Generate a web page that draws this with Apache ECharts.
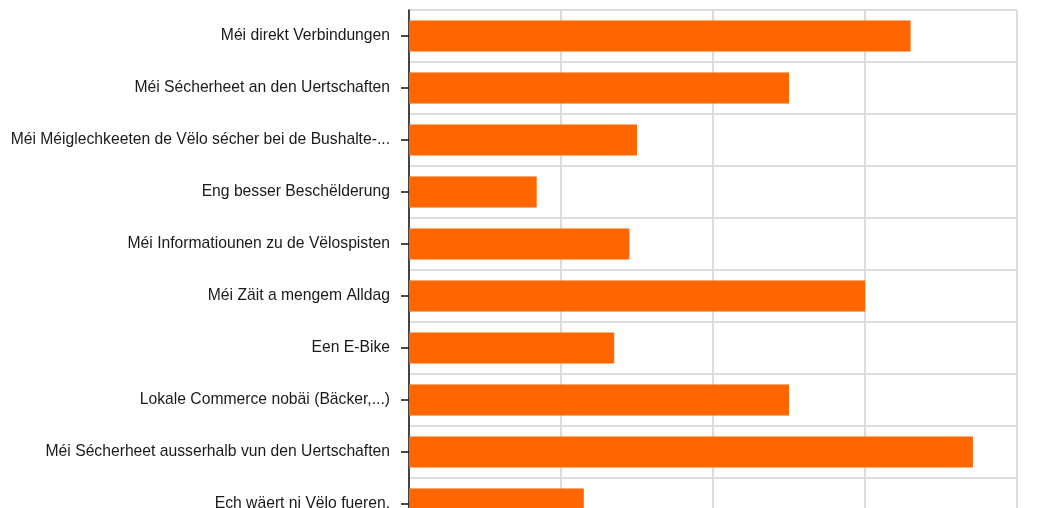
<!DOCTYPE html>
<html>
<head>
<meta charset="utf-8">
<script src="https://cdn.jsdelivr.net/npm/echarts@6/dist/echarts.min.js"></script>
<style>
html,body{margin:0;padding:0;background:#fff;}
#chart{width:1037px;height:508px;}
</style>
</head>
<body>
<div id="chart"></div>
<script>
const categories = [
  "Méi direkt Verbindungen",
  "Méi Sécherheet an den Uertschaften",
  "Méi Méiglechkeeten de Vëlo sécher bei de Bushalte-...",
  "Eng besser Beschëlderung",
  "Méi Informatiounen zu de Vëlospisten",
  "Méi Zäit a mengem Alldag",
  "Een E-Bike",
  "Lokale Commerce nobäi (Bäcker,...)",
  "Méi Sécherheet ausserhalb vun den Uertschaften",
  "Ech wäert ni Vëlo fueren."
];
const values = [33, 25, 15, 8.4, 14.5, 30, 13.5, 25, 37.1, 11.5];
const xTicks = [0, 10, 20, 30, 40];

const chart = echarts.init(document.getElementById('chart'));
chart.setOption({
  animation: false,
  backgroundColor: '#ffffff',
  grid: { left: 409, top: 10, width: 608, height: 520, containLabel: false, outerBoundsMode: 'none' },
  xAxis: {
    type: 'value',
    min: xTicks[0],
    max: xTicks[xTicks.length - 1],
    interval: xTicks[1] - xTicks[0],
    axisLine: { show: false },
    axisTick: { show: false },
    axisLabel: { show: true, color: '#222' },
    splitLine: { show: true, lineStyle: { color: '#dcdcdc', width: 2 } }
  },
  yAxis: {
    type: 'category',
    inverse: true,
    data: categories,
    axisLine: { show: true, lineStyle: { color: '#111', width: 1.5 } },
    axisTick: { show: true, alignWithLabel: true, length: 8, lineStyle: { color: '#111', width: 1.5 } },
    axisLabel: { color: '#1a1a1a', fontSize: 15.7, fontFamily: '"Liberation Sans", Arial, sans-serif', margin: 19, padding: [3, 0, 0, 0] },
    splitLine: { show: true, lineStyle: { color: '#dcdcdc', width: 2 } }
  },
  series: [{
    type: 'bar',
    data: values,
    barWidth: 31,
    itemStyle: { color: '#ff6600' }
  }]
});
</script>
</body>
</html>
